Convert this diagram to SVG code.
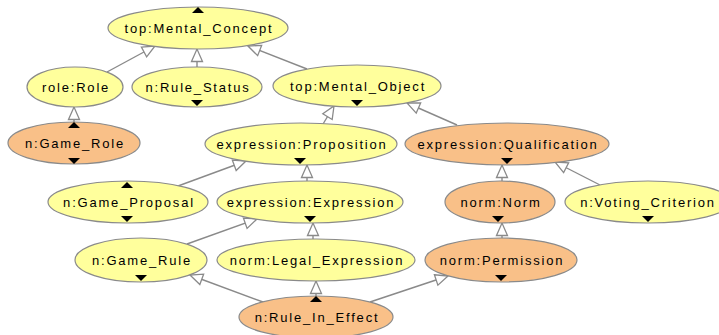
<svg xmlns="http://www.w3.org/2000/svg" width="719" height="335" viewBox="0 0 719 335">
<style>
.y{fill:#ffff9c;stroke:#8a8a8a;stroke-width:1.2}
.o{fill:#f9c088;stroke:#8a8a8a;stroke-width:1.2}
text{font-family:"Liberation Sans",Arial,sans-serif;font-size:13px;letter-spacing:1.8px;fill:#000;text-anchor:middle}
.t{fill:#000}
.e{stroke:#8a8a8a;stroke-width:1.4;fill:none;marker-end:url(#h)}
</style>
<defs>
<marker id="h" markerUnits="userSpaceOnUse" markerWidth="16" markerHeight="14" refX="13" refY="6" orient="auto" overflow="visible">
<path d="M0.5,0.5 L13,6 L0.5,11.5 Z" fill="#fff" stroke="#8a8a8a" stroke-width="1.3"/>
</marker>
</defs>
<rect width="719" height="335" fill="#fff"/>
<g id="connectors">
<line class="e" x1="107" y1="72" x2="155" y2="46"/>
<line class="e" x1="197" y1="67" x2="197" y2="49"/>
<line class="e" x1="307" y1="69" x2="248" y2="46"/>
<line class="e" x1="74" y1="122" x2="74" y2="107"/>
<line class="e" x1="323" y1="124" x2="334" y2="106"/>
<line class="e" x1="457" y1="125" x2="407" y2="103"/>
<line class="e" x1="178" y1="186" x2="246" y2="161"/>
<line class="e" x1="307" y1="181" x2="307" y2="165"/>
<line class="e" x1="502" y1="181" x2="502" y2="165"/>
<line class="e" x1="600" y1="185" x2="555" y2="162"/>
<line class="e" x1="187" y1="244" x2="257" y2="219"/>
<line class="e" x1="313" y1="239" x2="313" y2="223"/>
<line class="e" x1="502" y1="238" x2="502" y2="223"/>
<line class="e" x1="263" y1="302" x2="190" y2="275"/>
<line class="e" x1="316" y1="296" x2="316" y2="281"/>
<line class="e" x1="370" y1="302" x2="448" y2="276"/>
</g>
<g id="mental_concept">
<ellipse class="y" cx="198" cy="28" rx="90" ry="21"/>
<text x="199" y="33">top:Mental_Concept</text>
<path class="t" d="M192,13 L204,13 L198,7 Z"/>
</g>
<g id="role">
<ellipse class="y" cx="75" cy="87" rx="48" ry="20"/>
<text x="76" y="92">role:Role</text>
</g>
<g id="rule_status">
<ellipse class="y" cx="197" cy="87" rx="65" ry="20"/>
<text x="198" y="92">n:Rule_Status</text>
<path class="t" d="M191,100 L203,100 L197,106 Z"/>
</g>
<g id="mental_object">
<ellipse class="y" cx="357" cy="86" rx="84" ry="21"/>
<text x="358" y="91">top:Mental_Object</text>
<path class="t" d="M351,100 L363,100 L357,106 Z"/>
</g>
<g id="game_role">
<ellipse class="o" cx="74" cy="143" rx="66" ry="21"/>
<text x="75" y="148">n:Game_Role</text>
<path class="t" d="M68,128 L80,128 L74,122 Z"/>
<path class="t" d="M68,158 L80,158 L74,164 Z"/>
</g>
<g id="proposition">
<ellipse class="y" cx="301" cy="144" rx="96" ry="21"/>
<text x="302" y="149">expression:Proposition</text>
<path class="t" d="M294,158 L306,158 L300,164 Z"/>
</g>
<g id="qualification">
<ellipse class="o" cx="507" cy="144" rx="102" ry="21"/>
<text x="508" y="149">expression:Qualification</text>
<path class="t" d="M501,158 L513,158 L507,164 Z"/>
</g>
<g id="game_proposal">
<ellipse class="y" cx="128" cy="202" rx="80" ry="21"/>
<text x="129" y="207">n:Game_Proposal</text>
<path class="t" d="M121,188 L133,188 L127,182 Z"/>
<path class="t" d="M121,216 L133,216 L127,222 Z"/>
</g>
<g id="expression">
<ellipse class="y" cx="310" cy="202" rx="93" ry="21"/>
<text x="311" y="207">expression:Expression</text>
<path class="t" d="M304,216 L316,216 L310,222 Z"/>
</g>
<g id="norm">
<ellipse class="o" cx="500" cy="202" rx="55" ry="21"/>
<text x="501" y="207">norm:Norm</text>
<path class="t" d="M492,216 L504,216 L498,222 Z"/>
</g>
<g id="voting_criterion">
<ellipse class="y" cx="648" cy="202" rx="83" ry="21"/>
<text x="648" y="207">n:Voting_Criterion</text>
<path class="t" d="M642,216 L654,216 L648,222 Z"/>
</g>
<g id="game_rule">
<ellipse class="y" cx="141" cy="260" rx="66" ry="22"/>
<text x="142" y="265">n:Game_Rule</text>
<path class="t" d="M135,275 L147,275 L141,281 Z"/>
</g>
<g id="legal_expression">
<ellipse class="y" cx="316" cy="260" rx="99" ry="21"/>
<text x="317" y="265">norm:Legal_Expression</text>
</g>
<g id="permission">
<ellipse class="o" cx="501" cy="260" rx="76" ry="22"/>
<text x="502" y="265">norm:Permission</text>
<path class="t" d="M495,275 L507,275 L501,281 Z"/>
</g>
<g id="rule_in_effect">
<ellipse class="o" cx="316" cy="317" rx="77" ry="21"/>
<text x="317" y="322">n:Rule_In_Effect</text>
<path class="t" d="M310,302 L322,302 L316,296 Z"/>
</g>
</svg>
